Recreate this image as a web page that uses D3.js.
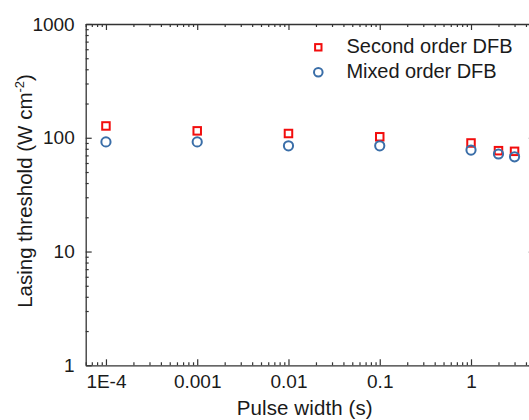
<!DOCTYPE html>
<html>
<head>
<meta charset="utf-8">
<script src="https://cdn.jsdelivr.net/npm/d3@7"></script>
<style>
  html, body { margin: 0; padding: 0; background: #fff; overflow: hidden; }
  svg { display: block; }
  text { font-family: Arial, "Liberation Sans", sans-serif; fill: #1a1a1a; }
</style>
</head>
<body>
<svg id="chart" width="529" height="420"></svg>
<script>
// Pulse widths (s)
const pulseWidths = [1e-4, 0.001, 0.01, 0.1, 1, 2, 3];
// Lasing threshold (W cm^-2)
const secondOrder = [127, 115, 109, 102, 90, 77, 76];
const mixedOrder = [92, 92, 85, 85, 78, 72, 68];
const seriesNames = ["Second order DFB", "Mixed order DFB"];
const xTickValues = [1e-4, 0.001, 0.01, 0.1, 1];
const xTickLabels = ["1E-4", "0.001", "0.01", "0.1", "1"];
const yTickValues = [1, 10, 100, 1000];
const yTickLabels = ["1", "10", "100", "1000"];

const svg = d3.select("#chart");
const plotLeft = 85.7, plotRight = 534.8, plotTop = 24, plotBottom = 365.3;

const x = d3.scaleLog().domain([6e-5, 5]).range([plotLeft, plotRight]);
const y = d3.scaleLog().domain([1, 1000]).range([plotBottom, plotTop]);

const axisColor = "#333";

// minor tick values (2..9 in every decade inside the domain)
function minorTicks(scale) {
  const [a, b] = scale.domain();
  const out = [];
  for (let e = Math.floor(Math.log10(a)); e <= Math.ceil(Math.log10(b)); e++) {
    for (let m = 2; m <= 9; m++) {
      const v = m * Math.pow(10, e);
      if (v >= a && v <= b) out.push(v);
    }
  }
  return out;
}

function styleAxis(g) {
  g.select(".domain").attr("stroke", axisColor).attr("stroke-width", 1.3);
  g.selectAll(".tick line").attr("stroke", axisColor).attr("stroke-width", 1.2);
}

const major = 6, minor = 3;

// bottom axis: major ticks with labels, pointing inward
const gx = svg.append("g").attr("transform", `translate(0,${plotBottom})`)
  .call(d3.axisBottom(x).tickValues(xTickValues)
    .tickFormat((d, i) => xTickLabels[i]).tickSize(-major).tickSizeOuter(0).tickPadding(9.5));
gx.call(styleAxis);
gx.selectAll("text").attr("font-size", 19).attr("fill", "#1a1a1a");
svg.append("g").attr("transform", `translate(0,${plotBottom})`)
  .call(d3.axisBottom(x).tickValues(minorTicks(x)).tickFormat("").tickSize(-minor).tickSizeOuter(0))
  .call(styleAxis).select(".domain").remove();

// top axis
svg.append("g").attr("transform", `translate(0,${plotTop})`)
  .call(d3.axisTop(x).tickValues(xTickValues).tickFormat("").tickSize(-major).tickSizeOuter(0))
  .call(styleAxis);
svg.append("g").attr("transform", `translate(0,${plotTop})`)
  .call(d3.axisTop(x).tickValues(minorTicks(x)).tickFormat("").tickSize(-minor).tickSizeOuter(0))
  .call(styleAxis).select(".domain").remove();

// left axis
const gy = svg.append("g").attr("transform", `translate(${plotLeft},0)`)
  .call(d3.axisLeft(y).tickValues(yTickValues)
    .tickFormat((d, i) => yTickLabels[i]).tickSize(-major).tickSizeOuter(0).tickPadding(11));
gy.call(styleAxis);
gy.selectAll("text").attr("font-size", 19).attr("fill", "#1a1a1a");
svg.append("g").attr("transform", `translate(${plotLeft},0)`)
  .call(d3.axisLeft(y).tickValues(minorTicks(y)).tickFormat("").tickSize(-minor).tickSizeOuter(0))
  .call(styleAxis).select(".domain").remove();

// right axis
svg.append("g").attr("transform", `translate(${plotRight},0)`)
  .call(d3.axisRight(y).tickValues(yTickValues).tickFormat("").tickSize(-major).tickSizeOuter(0))
  .call(styleAxis);
svg.append("g").attr("transform", `translate(${plotRight},0)`)
  .call(d3.axisRight(y).tickValues(minorTicks(y)).tickFormat("").tickSize(-minor).tickSizeOuter(0))
  .call(styleAxis).select(".domain").remove();

// axis titles
svg.append("text")
  .attr("x", 236.7).attr("y", 415)
  .attr("font-size", 20.5)
  .attr("textLength", 136).attr("lengthAdjust", "spacing")
  .text("Pulse width (s)");

const yl = svg.append("text")
  .attr("transform", "translate(32,191) rotate(-90)")
  .attr("text-anchor", "middle").attr("font-size", 20.5);
yl.append("tspan").text("Lasing threshold (W cm");
yl.append("tspan").attr("font-size", 13).attr("dy", -8).text("-2");
yl.append("tspan").attr("dy", 8).text(")");

const red = "#f20d0d", blue = "#3a6ea8";

// data markers: squares first, circles on top
const sq = 7.5;
svg.append("g").selectAll("rect").data(pulseWidths).join("rect")
  .attr("x", (d) => x(d) - sq / 2)
  .attr("y", (d, i) => y(secondOrder[i]) - sq / 2)
  .attr("width", sq).attr("height", sq)
  .attr("fill", "none").attr("stroke", red).attr("stroke-width", 2);

svg.append("g").selectAll("circle").data(pulseWidths).join("circle")
  .attr("cx", (d) => x(d))
  .attr("cy", (d, i) => y(mixedOrder[i]))
  .attr("r", 4.6)
  .attr("fill", "none").attr("stroke", blue).attr("stroke-width", 2);

// legend
const lg = svg.append("g");
lg.append("rect").attr("x", 318.3 - 3.2).attr("y", 47.3 - 3.2).attr("width", 6.4).attr("height", 6.4)
  .attr("fill", "none").attr("stroke", red).attr("stroke-width", 2);
lg.append("text").attr("x", 346.5).attr("y", 53).attr("font-size", 20)
  .attr("textLength", 166).attr("lengthAdjust", "spacing").text(seriesNames[0]);
lg.append("circle").attr("cx", 318.3).attr("cy", 72.3).attr("r", 4.3)
  .attr("fill", "none").attr("stroke", blue).attr("stroke-width", 2);
lg.append("text").attr("x", 346.5).attr("y", 78).attr("font-size", 20)
  .attr("textLength", 150).attr("lengthAdjust", "spacing").text(seriesNames[1]);
</script>
</body>
</html>
